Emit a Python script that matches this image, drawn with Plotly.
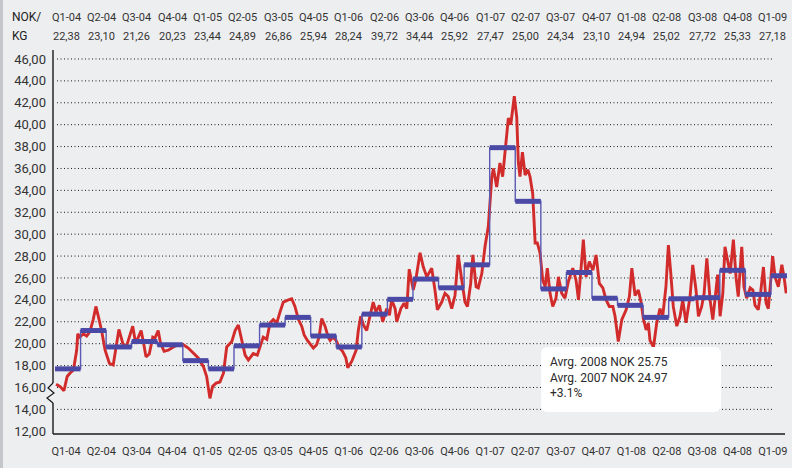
import plotly.graph_objects as go

# ---------------- data ----------------
quarters = ["Q1-04", "Q2-04", "Q3-04", "Q4-04", "Q1-05", "Q2-05", "Q3-05", "Q4-05",
            "Q1-06", "Q2-06", "Q3-06", "Q4-06", "Q1-07", "Q2-07", "Q3-07", "Q4-07",
            "Q1-08", "Q2-08", "Q3-08", "Q4-08", "Q1-09"]
header_values = ["22,38", "23,10", "21,26", "20,23", "23,44", "24,89", "26,86", "25,94",
                 "28,24", "39,72", "34,44", "25,92", "27,47", "25,00", "24,34", "23,10",
                 "24,94", "25,02", "27,72", "25,33", "27,18"]

# weekly price (week index from start, NOK/kg)
red_week = [0.4, 1.8, 3.3, 4.5, 5.5, 6.8, 8.0, 8.4, 9.2, 10.5, 11.7, 12.9, 14.1, 15.1, 16.0,
            17.2, 18.5, 20.1, 21.5, 22.5, 23.6, 24.4, 25.5, 26.7, 27.7, 28.7, 29.8, 30.8,
            31.8, 32.6, 33.6, 34.8, 36.1, 36.9, 38.1, 39.0, 40.3, 41.8, 43.7, 45.5, 47.4,
            49.2, 51.1, 52.9, 54.8, 56.0, 57.2, 58.2, 59.5, 60.9, 62.2, 63.4, 65.3, 66.5,
            67.7, 68.9, 70.2, 71.4, 73.2, 74.7, 75.7, 76.9, 78.2, 79.4, 80.6, 81.9, 83.1,
            84.3, 86.2, 87.4, 88.6, 89.9, 91.1, 92.0, 93.2, 94.2, 95.4, 96.6, 97.5, 98.5,
            99.7, 100.9, 101.6, 102.6, 103.8, 105.0, 106.2, 107.4, 108.1, 109.6, 111.2,
            112.0, 112.9, 113.9, 115.1, 116.3, 117.5, 118.5, 119.8, 121.0, 122.5, 123.5,
            124.3, 125.6, 126.2, 127.7, 128.9, 129.9, 130.8, 132.3, 133.2, 134.8, 136.0,
            137.3, 139.1, 140.3, 141.2, 142.8, 144.0, 145.2, 146.5, 147.7, 148.9, 150.2,
            151.4, 152.3, 153.5, 154.3, 155.5, 156.3, 157.6, 158.8, 160.0, 161.3, 161.9,
            163.1, 164.3, 165.3, 166.6, 167.4, 168.3, 169.0, 169.6, 170.5, 171.1, 171.7,
            172.6, 173.6, 174.6, 175.4, 176.4, 177.3, 178.1, 179.1, 180.1, 181.0, 181.8,
            182.8, 183.8, 185.0, 185.9, 187.1, 188.3, 189.6, 191.2, 192.4, 193.3, 194.1,
            195.1, 196.1, 197.3, 198.6, 199.8, 201.0, 202.3, 203.5, 204.7, 206.0, 206.8,
            208.0, 209.3, 210.9, 212.1, 213.0, 214.2, 215.4, 216.4, 217.3, 218.3, 219.1,
            219.7, 221.0, 222.2, 223.4, 224.4, 225.6, 226.5, 227.4, 228.3, 229.6, 230.8,
            231.8, 233.0, 234.5, 235.5, 236.7, 237.6, 238.8, 239.7, 240.7, 241.9, 242.9,
            243.7, 244.7, 245.6, 246.6, 247.4, 248.3, 249.3, 250.5, 251.5, 252.3, 253.6,
            254.4, 255.4, 256.7, 257.7, 258.5, 259.7, 260.6, 261.6, 262.6, 263.4, 264.3,
            265.0, 265.9, 267.1, 268.4, 269.2, 270.0]
red_val = [16.3, 16.1, 15.7, 17.0, 17.3, 17.6, 19.4, 20.9, 20.6, 20.9, 20.7, 21.1, 22.2, 23.4,
           22.5, 21.2, 19.4, 18.2, 18.05, 19.7, 21.3, 20.6, 19.6, 20.0, 20.9, 21.6, 20.0, 20.6,
           21.2, 20.2, 18.8, 19.05, 20.6, 20.5, 21.2, 20.0, 19.3, 19.4, 19.7, 19.9, 19.9,
           19.6, 19.1, 18.7, 17.9, 17.0, 15.0, 16.1, 16.4, 16.5, 17.3, 19.7, 20.2, 21.2,
           21.7, 20.3, 18.95, 18.5, 19.1, 18.95, 19.8, 20.6, 20.4, 21.9, 22.2, 21.9, 22.9,
           23.8, 24.0, 24.1, 23.4, 22.2, 21.6, 20.8, 20.3, 20.0, 19.6, 19.9, 20.6, 22.3,
           21.6, 20.6, 20.3, 20.6, 20.3, 19.6, 19.3, 18.7, 17.8, 18.4, 19.4, 21.2, 22.5,
           21.7, 21.2, 22.5, 23.8, 22.9, 23.5, 22.0, 23.2, 22.6, 24.0, 23.2, 22.0, 23.2,
           23.7, 23.2, 26.8, 24.9, 25.8, 28.3, 27.0, 26.1, 26.9, 24.9, 23.1, 23.8, 24.6,
           24.3, 23.2, 24.4, 28.1, 25.8, 23.8, 23.4, 25.5, 28.1, 25.2, 25.1, 26.4, 28.9,
           30.7, 35.25, 36.0, 34.3, 36.5, 35.25, 38.6, 40.6, 40.0, 41.2, 42.6, 40.7, 36.5,
           35.25, 37.5, 35.4, 35.9, 35.25, 33.7, 29.2, 29.2, 28.3, 25.8, 25.2, 26.9, 24.6,
           23.4, 24.15, 26.1, 24.6, 24.15, 25.7, 26.9, 25.8, 24.0, 26.4, 29.5, 26.1, 27.5,
           26.7, 28.1, 25.5, 25.1, 24.0, 23.4, 23.4, 22.5, 20.2, 22.2, 23.1, 24.3, 26.9,
           24.4, 24.9, 23.8, 22.2, 21.25, 21.9, 20.3, 19.7, 21.9, 23.2, 22.5, 25.2, 29.0,
           26.4, 23.4, 21.6, 22.5, 24.0, 21.9, 24.3, 27.2, 24.9, 22.5, 23.4, 24.6, 27.8,
           24.0, 22.2, 24.3, 26.3, 22.5, 24.6, 28.85, 27.8, 26.4, 29.5, 26.0, 24.3, 28.85,
           25.2, 24.15, 25.1, 24.9, 23.5, 23.1, 24.75, 27.0, 23.7, 23.2, 25.8, 28.0, 26.1,
           25.2, 27.2, 26.1, 24.6]

# period averages (blue steps)
avg_val = [17.7, 21.2, 19.7, 20.2, 19.9, 18.45, 17.7, 19.8, 21.7, 22.4, 20.7, 19.7, 22.7,
           24.05, 25.9, 25.1, 27.2, 37.9, 33.0, 25.0, 26.5, 24.15, 23.5, 22.4, 24.1, 24.2,
           26.7, 24.5, 26.2]
period_weeks = 9.442
data_end_week = 270.3

y_ticks = list(range(12, 47, 2))
grid_vals = list(range(14, 47, 2))

# ---------------- derived ----------------
avg_start = [i * period_weeks for i in range(len(avg_val))]
avg_end = avg_start[1:] + [data_end_week]
tick_pos = [4.06 + 13.05 * k for k in range(len(quarters))]

# layout geometry
W, H = 792, 468
ML, MR, MT, MB = 53, 5, 50, 34
PW = W - ML - MR
PH = H - MT - MB
YMIN, YMAX = 11.75, 46.82
XMIN, XMAX = -0.74, 270.3

def px2paper_x(dx):
    return dx / PW

fig = go.Figure()

# red weekly line
fig.add_trace(go.Scatter(x=red_week, y=red_val, mode="lines",
                         line=dict(color="#d22b2b", width=2.9), hoverinfo="skip",
                         showlegend=False))

# blue step connectors (thin)
step_x = avg_start + [data_end_week]
step_y = avg_val + [avg_val[-1]]
fig.add_trace(go.Scatter(x=step_x, y=step_y, mode="lines", line_shape="hv",
                         line=dict(color="#5a5ab4", width=1.4), hoverinfo="skip",
                         showlegend=False))

# blue thick bars
bx, by = [], []
for s, e, v in zip(avg_start, avg_end, avg_val):
    bx += [s, e, None]
    by += [v, v, None]
fig.add_trace(go.Scatter(x=bx, y=by, mode="lines",
                         line=dict(color="#4a4aa6", width=5), hoverinfo="skip",
                         showlegend=False))

shapes = []
# dotted gridlines
for g in grid_vals:
    shapes.append(dict(type="line", xref="paper", yref="y",
                       x0=px2paper_x(4), x1=px2paper_x(719), y0=g, y1=g,
                       line=dict(color="#1a1a1a", width=1, dash="1px,2.5px"), layer="below"))
# x axis line
shapes.append(dict(type="line", xref="paper", yref="paper", x0=0, x1=px2paper_x(732),
                   y0=0, y1=0, line=dict(color="#1a1a1a", width=1.6)))
# y axis with break
shapes.append(dict(type="line", xref="paper", yref="y", x0=0, x1=0, y0=YMAX, y1=16.41,
                   line=dict(color="#1a1a1a", width=1.4)))
zig_x = [0, -5, 1, -6, 0]
zig_y = [16.41, 15.95, 15.49, 15.04, 14.58]
path = "M " + " L ".join(f"{px2paper_x(a)},{b}" for a, b in zip(zig_x, zig_y))
shapes.append(dict(type="path", xref="paper", yref="y", path=path,
                   line=dict(color="#1a1a1a", width=1.2)))
shapes.append(dict(type="line", xref="paper", yref="y", x0=0, x1=0, y0=14.58, y1=YMIN,
                   line=dict(color="#1a1a1a", width=1.4)))

# rounded white box for the note
bx0, bx1 = (541 - ML) / PW, (721 - ML) / PW
by0, by1 = (H - MB - 412) / PH, (H - MB - 347) / PH
rx, ry = 7 / PW, 7 / PH
box = (f"M {bx0+rx},{by0} L {bx1-rx},{by0} Q {bx1},{by0} {bx1},{by0+ry} "
       f"L {bx1},{by1-ry} Q {bx1},{by1} {bx1-rx},{by1} L {bx0+rx},{by1} "
       f"Q {bx0},{by1} {bx0},{by1-ry} L {bx0},{by0+ry} Q {bx0},{by0} {bx0+rx},{by0} Z")
shapes.append(dict(type="path", xref="paper", yref="paper", path=box,
                   fillcolor="white", line=dict(width=0), layer="above"))
# left edge strip
shapes.append(dict(type="rect", xref="paper", yref="paper", x0=-ML / PW, x1=(3 - ML) / PW,
                   y0=-MB / PH, y1=1 + MT / PH, fillcolor="#c3c6ca", line=dict(width=0)))

annotations = []
font_txt = dict(family="Roboto", size=11, color="#333333")
for q, v, xp in zip(quarters, header_values, tick_pos):
    annotations.append(dict(x=xp, y=(H - MB - 17) / PH, xref="x", yref="paper", text=q,
                            showarrow=False, font=font_txt, xanchor="center", yanchor="middle"))
    annotations.append(dict(x=xp, y=(H - MB - 36) / PH, xref="x", yref="paper", text=v,
                            showarrow=False, font=font_txt, xanchor="center", yanchor="middle"))
annotations.append(dict(x=(10 - ML) / PW, y=(H - MB - 17) / PH, xref="paper", yref="paper",
                        text="NOK/", showarrow=False, font=dict(family="Roboto", size=12, color="#222"),
                        xanchor="left", yanchor="middle"))
annotations.append(dict(x=(10 - ML) / PW, y=(H - MB - 36) / PH, xref="paper", yref="paper",
                        text="KG", showarrow=False, font=dict(family="Roboto", size=12, color="#222"),
                        xanchor="left", yanchor="middle"))
annotations.append(dict(x=(548 - ML) / PW, y=(H - MB - 353) / PH, xref="paper", yref="paper",
                        text="Avrg. 2008 NOK 25.75<br>Avrg. 2007 NOK 24.97<br>+3.1%",
                        showarrow=False, align="left", xanchor="left", yanchor="top",
                        font=dict(family="Roboto", size=12, color="#2a2a2a")))

fig.update_layout(
    width=W, height=H,
    margin=dict(l=ML, r=MR, t=MT, b=MB, autoexpand=False),
    paper_bgcolor="#edeef0", plot_bgcolor="#edeef0",
    separators=",.",
    shapes=shapes, annotations=annotations,
    xaxis=dict(range=[XMIN, XMAX], tickvals=tick_pos, ticktext=quarters, showgrid=False,
               zeroline=False, showline=False, ticks="", ticklabelstandoff=9,
               automargin=False,
               tickfont=dict(family="Roboto", size=11, color="#333333")),
    yaxis=dict(range=[YMIN, YMAX], tickvals=y_ticks, tickformat=".2f", showgrid=False,
               zeroline=False, showline=False, ticks="", ticklabelstandoff=6,
               automargin=False,
               tickfont=dict(family="Roboto", size=13, color="#333333")),
)

fig.write_html("out.html", config={"displayModeBar": False},
               post_script="document.body.style.margin='0';document.body.style.background='#edeef0';")
